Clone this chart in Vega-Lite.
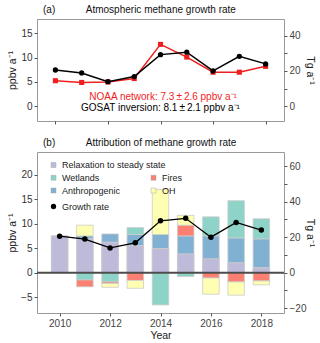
{
  "$schema": "https://vega.github.io/schema/vega-lite/v6.json",
  "padding": {"left": 7, "top": 4, "right": 4, "bottom": 3},
  "spacing": 12,
  "config": {
    "font": "Liberation Sans",
    "view": {"stroke": "#999999", "strokeWidth": 1},
    "axis": {"grid": false, "domain": false, "tickColor": "#555555", "tickSize": 3, "labelFontSize": 10, "labelColor": "#444444", "labelPadding": 2, "titleFontSize": 10.5, "titleFontWeight": "normal", "titleColor": "#222222"},
    "title": {"fontSize": 10, "fontWeight": "normal", "color": "#111111", "anchor": "start", "frame": "group", "dx": 6, "offset": 4},
    "legend": {"title": null, "orient": "none", "labelFontSize": 9, "labelColor": "#222222", "labelOffset": 4, "rowPadding": 3, "columnPadding": 28, "padding": 0, "symbolSize": 25, "symbolStrokeColor": "#aaaaaa", "symbolStrokeWidth": 0.5}
  },
  "datasets": {
    "rates": [
      {"year": 2010, "series": "NOAA", "rate": 5.25},
      {"year": 2011, "series": "NOAA", "rate": 4.9},
      {"year": 2012, "series": "NOAA", "rate": 5.0},
      {"year": 2013, "series": "NOAA", "rate": 5.7},
      {"year": 2014, "series": "NOAA", "rate": 12.7},
      {"year": 2015, "series": "NOAA", "rate": 10.1},
      {"year": 2016, "series": "NOAA", "rate": 7.0},
      {"year": 2017, "series": "NOAA", "rate": 7.0},
      {"year": 2018, "series": "NOAA", "rate": 8.2},
      {"year": 2010, "series": "GOSAT", "rate": 7.45},
      {"year": 2011, "series": "GOSAT", "rate": 6.85},
      {"year": 2012, "series": "GOSAT", "rate": 5.05},
      {"year": 2013, "series": "GOSAT", "rate": 6.1},
      {"year": 2014, "series": "GOSAT", "rate": 10.6},
      {"year": 2015, "series": "GOSAT", "rate": 11.1},
      {"year": 2016, "series": "GOSAT", "rate": 7.25},
      {"year": 2017, "series": "GOSAT", "rate": 10.25},
      {"year": 2018, "series": "GOSAT", "rate": 8.7}
    ],
    "components": [
      {"year": 2010, "component": "Relaxation to steady state", "value": 7.5},
      {"year": 2011, "component": "Relaxation to steady state", "value": 6.9},
      {"year": 2011, "component": "Anthropogenic", "value": 0.6},
      {"year": 2011, "component": "OH", "value": 2.2},
      {"year": 2011, "component": "Wetlands", "value": -1.5},
      {"year": 2011, "component": "Fires", "value": -1.4},
      {"year": 2012, "component": "Relaxation to steady state", "value": 6.2},
      {"year": 2012, "component": "Anthropogenic", "value": 1.7},
      {"year": 2012, "component": "Wetlands", "value": -1.9},
      {"year": 2012, "component": "Fires", "value": -0.3},
      {"year": 2012, "component": "OH", "value": -0.8},
      {"year": 2013, "component": "Relaxation to steady state", "value": 5.5},
      {"year": 2013, "component": "Anthropogenic", "value": 2.3},
      {"year": 2013, "component": "Wetlands", "value": 1.4},
      {"year": 2013, "component": "Fires", "value": -1.6},
      {"year": 2013, "component": "OH", "value": -1.6},
      {"year": 2014, "component": "Relaxation to steady state", "value": 4.9},
      {"year": 2014, "component": "Anthropogenic", "value": 2.9},
      {"year": 2014, "component": "OH", "value": 9.2},
      {"year": 2014, "component": "Wetlands", "value": -6.6},
      {"year": 2015, "component": "Relaxation to steady state", "value": 3.8},
      {"year": 2015, "component": "Anthropogenic", "value": 3.7},
      {"year": 2015, "component": "Fires", "value": 2.2},
      {"year": 2015, "component": "OH", "value": 2.0},
      {"year": 2015, "component": "Wetlands", "value": -0.8},
      {"year": 2016, "component": "Relaxation to steady state", "value": 2.8},
      {"year": 2016, "component": "Anthropogenic", "value": 4.7},
      {"year": 2016, "component": "Wetlands", "value": 3.9},
      {"year": 2016, "component": "Fires", "value": -1.1},
      {"year": 2016, "component": "OH", "value": -3.3},
      {"year": 2017, "component": "Relaxation to steady state", "value": 2.0},
      {"year": 2017, "component": "Anthropogenic", "value": 5.1},
      {"year": 2017, "component": "Wetlands", "value": 7.6},
      {"year": 2017, "component": "Fires", "value": -1.9},
      {"year": 2017, "component": "OH", "value": -2.7},
      {"year": 2018, "component": "Relaxation to steady state", "value": 1.0},
      {"year": 2018, "component": "Anthropogenic", "value": 5.9},
      {"year": 2018, "component": "Wetlands", "value": 4.1},
      {"year": 2018, "component": "Fires", "value": -1.7},
      {"year": 2018, "component": "OH", "value": -0.8}
    ]
  },
  "resolve": {"scale": {"color": "independent", "fill": "independent", "shape": "independent", "y": "independent"}},
  "vconcat": [
    {
      "width": 247,
      "height": 102,
      "title": {"text": "(a)\u00a0\u00a0\u00a0\u00a0\u00a0\u00a0\u00a0\u00a0\u00a0\u00a0\u00a0Atmospheric methane growth rate"},
      "layer": [
        {
          "layer": [
            {
              "data": {"values": [{}]},
              "mark": {"type": "rule", "strokeOpacity": 0},
              "encoding": {
                "x": {"datum": 2014, "type": "quantitative", "scale": {"domain": [2009.3, 2018.7], "nice": false, "zero": false}, "axis": {"values": [2010, 2011, 2012, 2013, 2014, 2015, 2016, 2017, 2018], "labels": false, "title": null}},
                "y": {"datum": 0, "type": "quantitative", "scale": {"domain": [-3.0, 17.9], "nice": false, "zero": false}, "axis": {"tickCount": 4, "labelOverlap": false, "labelColor": "#333333", "title": "ppbv a\u207b\u00b9", "titlePadding": 3}}
              }
            },
            {
              "data": {"name": "rates"},
              "transform": [{"filter": "datum.series === 'NOAA'"}],
              "mark": {"type": "line", "color": "#f01e1e", "strokeWidth": 1.5},
              "encoding": {
                "x": {"field": "year", "type": "quantitative"},
                "y": {"field": "rate", "type": "quantitative"}
              }
            },
            {
              "data": {"name": "rates"},
              "transform": [{"filter": "datum.series === 'NOAA'"}],
              "mark": {"type": "point", "shape": "square", "filled": true, "color": "#f01e1e", "size": 26, "opacity": 1},
              "encoding": {
                "x": {"field": "year", "type": "quantitative"},
                "y": {"field": "rate", "type": "quantitative"}
              }
            },
            {
              "data": {"name": "rates"},
              "transform": [{"filter": "datum.series === 'GOSAT'"}],
              "mark": {"type": "line", "color": "#000000", "strokeWidth": 1.5},
              "encoding": {
                "x": {"field": "year", "type": "quantitative"},
                "y": {"field": "rate", "type": "quantitative"}
              }
            },
            {
              "data": {"name": "rates"},
              "transform": [{"filter": "datum.series === 'GOSAT'"}],
              "mark": {"type": "point", "shape": "circle", "filled": true, "color": "#000000", "size": 28, "opacity": 1},
              "encoding": {
                "x": {"field": "year", "type": "quantitative"},
                "y": {"field": "rate", "type": "quantitative"}
              }
            },
            {
              "data": {"values": [{"label": "NOAA network: 7.3\u2009\u00b1\u20092.6 ppbv a\u207b\u00b9"}]},
              "mark": {"type": "text", "color": "#f01e1e", "fontSize": 10, "align": "center", "baseline": "middle"},
              "encoding": {
                "x": {"datum": 2014.1},
                "y": {"datum": 1.85},
                "text": {"field": "label"}
              }
            },
            {
              "data": {"values": [{"label": "GOSAT inversion: 8.1\u2009\u00b1\u20092.1 ppbv a\u207b\u00b9"}]},
              "mark": {"type": "text", "color": "#000000", "fontSize": 10, "align": "center", "baseline": "middle"},
              "encoding": {
                "x": {"datum": 2014.0},
                "y": {"datum": -0.4},
                "text": {"field": "label"}
              }
            }
          ]
        },
        {
          "data": {"values": [{}]},
          "mark": {"type": "rule", "strokeOpacity": 0},
          "encoding": {
            "y": {"datum": 0, "type": "quantitative", "scale": {"domain": [-8.28, 49.4], "nice": false, "zero": false}, "axis": {"orient": "right", "values": [0, 10, 20, 30, 40], "labelOverlap": false, "labelExpr": "datum.value % 20 === 0 ? datum.label : ''", "title": "Tg a\u207b\u00b9", "titlePadding": 4}}
          }
        }
      ],
      "resolve": {"scale": {"y": "independent"}}
    },
    {
      "width": 247,
      "height": 161,
      "title": {"text": "(b)\u00a0\u00a0\u00a0\u00a0\u00a0\u00a0\u00a0\u00a0\u00a0\u00a0\u00a0Attribution of methane growth rate"},
      "layer": [
        {
          "layer": [
            {
              "data": {"values": [{}]},
              "mark": {"type": "rule", "strokeOpacity": 0},
              "encoding": {
                "x": {"datum": 2014, "type": "quantitative", "scale": {"domain": [2009.3, 2018.7], "nice": false, "zero": false}, "axis": {"values": [2010, 2011, 2012, 2013, 2014, 2015, 2016, 2017, 2018], "format": "d", "labelOverlap": false, "labelExpr": "datum.value % 2 === 0 ? datum.label : ''", "title": "Year", "titlePadding": 2}},
                "y": {"datum": 0, "type": "quantitative", "scale": {"domain": [-8.25, 24.65], "nice": false, "zero": false}, "axis": {"tickCount": 6, "labelOverlap": false, "labelColor": "#333333", "title": "ppbv a\u207b\u00b9", "titlePadding": 3}}
              }
            },
            {
              "data": {"name": "components"},
              "transform": [{"calculate": "indexof(['Relaxation to steady state', 'Anthropogenic', 'Wetlands', 'Fires', 'OH'], datum.component)", "as": "ord"}],
              "mark": {"type": "bar", "size": 16.5, "stroke": "#cccccc", "strokeWidth": 0.8},
              "encoding": {
                "x": {"field": "year", "type": "quantitative"},
                "y": {"field": "value", "type": "quantitative", "stack": "zero"},
                "fill": {"field": "component", "type": "nominal", "scale": {"domain": ["Relaxation to steady state", "Anthropogenic", "Wetlands", "Fires", "OH"], "range": ["#bebada", "#80b1d3", "#8dd3c7", "#fb8072", "#ffffb3"]}, "legend": {"values": ["Wetlands", "Anthropogenic", "Fires", "OH"], "columns": 2, "legendX": 12, "legendY": 21, "symbolType": "square"}},
                "order": {"field": "ord", "type": "quantitative", "sort": "ascending"}
              }
            },
            {
              "data": {"name": "components"},
              "transform": [{"filter": "datum.component === 'Relaxation to steady state'"}],
              "mark": {"type": "bar", "size": 16.5, "stroke": "#cccccc", "strokeWidth": 0.8},
              "encoding": {
                "x": {"field": "year", "type": "quantitative"},
                "y": {"field": "value", "type": "quantitative"},
                "color": {"field": "component", "type": "nominal", "scale": {"domain": ["Relaxation to steady state"], "range": ["#bebada"]}, "legend": {"legendX": 12, "legendY": 8.5, "symbolType": "square"}}
              }
            },
            {
              "data": {"values": [{}]},
              "mark": {"type": "rule", "color": "#4d4d4d", "strokeWidth": 2},
              "encoding": {"y": {"datum": 0}}
            },
            {
              "data": {"name": "rates"},
              "transform": [{"filter": "datum.series === 'GOSAT'"}],
              "mark": {"type": "line", "color": "#000000", "strokeWidth": 1.3},
              "encoding": {
                "x": {"field": "year", "type": "quantitative"},
                "y": {"field": "rate", "type": "quantitative"}
              }
            },
            {
              "data": {"name": "rates"},
              "transform": [{"filter": "datum.series === 'GOSAT'"}],
              "mark": {"type": "point", "filled": true, "color": "#000000", "size": 30, "opacity": 1},
              "encoding": {
                "x": {"field": "year", "type": "quantitative"},
                "y": {"field": "rate", "type": "quantitative"},
                "shape": {"datum": "Growth rate", "scale": {"range": ["circle"]}, "legend": {"legendX": 12, "legendY": 50, "symbolFillColor": "#000000", "symbolStrokeWidth": 0, "symbolSize": 28}}
              }
            }
          ]
        },
        {
          "data": {"values": [{}]},
          "mark": {"type": "rule", "strokeOpacity": 0},
          "encoding": {
            "y": {"datum": 0, "type": "quantitative", "scale": {"domain": [-22.77, 68.03], "nice": false, "zero": false}, "axis": {"orient": "right", "values": [-20, -10, 0, 10, 20, 30, 40, 50, 60], "labelOverlap": false, "labelExpr": "datum.value % 20 === 0 ? datum.label : ''", "title": "Tg a\u207b\u00b9", "titlePadding": -1}}
          }
        }
      ],
      "resolve": {"scale": {"y": "independent"}}
    }
  ]
}
